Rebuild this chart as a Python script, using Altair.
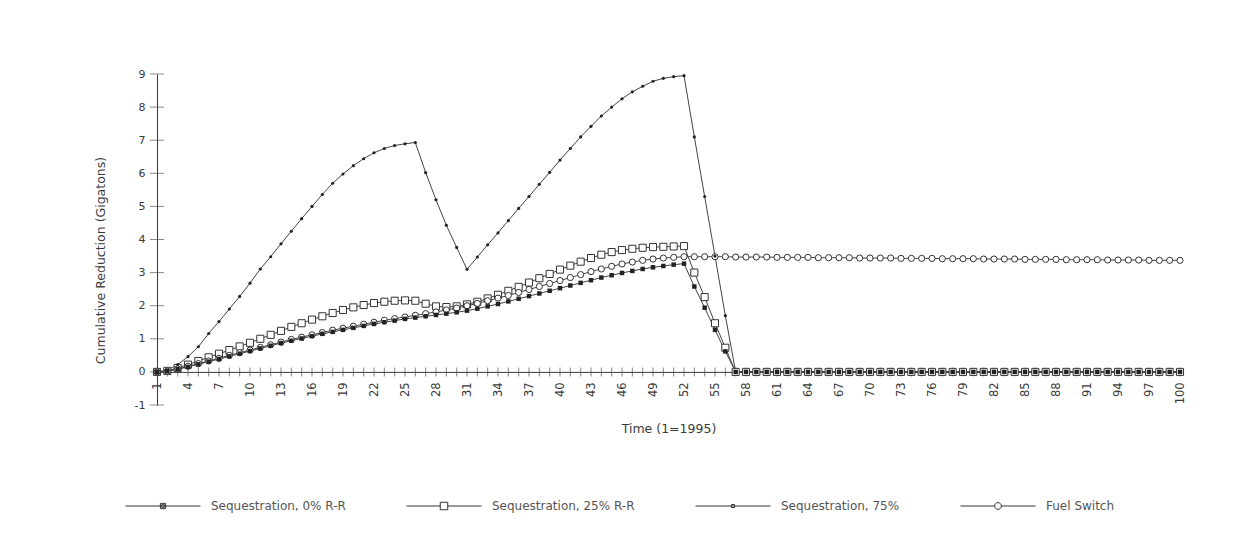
import altair as alt
import pandas as pd

years = list(range(1, 101))

seq0 = [0, 0.02, 0.08, 0.15, 0.23, 0.31, 0.39, 0.47, 0.55, 0.63, 0.71, 0.79, 0.87, 0.94, 1.01, 1.08,
        1.15, 1.21, 1.27, 1.33, 1.39, 1.45, 1.5, 1.55, 1.6, 1.64,
        1.68, 1.72, 1.76, 1.8, 1.85, 1.91, 1.98, 2.05, 2.13, 2.21, 2.29, 2.37, 2.45, 2.53, 2.61, 2.69,
        2.77, 2.85, 2.92, 2.99, 3.05, 3.11, 3.16, 3.2, 3.24, 3.27,
        2.58, 1.94, 1.27, 0.62, 0] + [0] * 43

seq25 = [0, 0.03, 0.12, 0.22, 0.33, 0.44, 0.55, 0.66, 0.77, 0.88, 1.0, 1.12, 1.24, 1.36, 1.47, 1.58,
         1.68, 1.78, 1.87, 1.95, 2.02, 2.08, 2.12, 2.15, 2.16, 2.15,
         2.06, 1.98, 1.96, 1.98, 2.04, 2.12, 2.22, 2.33, 2.45, 2.57, 2.7, 2.83, 2.96, 3.09, 3.21, 3.33,
         3.44, 3.54, 3.62, 3.68, 3.72, 3.75, 3.77, 3.78, 3.79, 3.8,
         3.0, 2.26, 1.47, 0.73, 0] + [0] * 43

seq75 = [0, 0.05, 0.22, 0.46, 0.76, 1.16, 1.52, 1.9, 2.28, 2.68, 3.11, 3.48, 3.87, 4.25, 4.63, 5.0,
         5.36, 5.7, 5.98, 6.23, 6.44, 6.62, 6.75, 6.84, 6.89, 6.93,
         6.02, 5.2, 4.43, 3.76, 3.1,
         3.47, 3.84, 4.2, 4.57, 4.94, 5.3, 5.67, 6.03, 6.4, 6.75, 7.1, 7.42, 7.73, 8.0, 8.25, 8.46,
         8.63, 8.78, 8.87, 8.92, 8.95,
         7.1, 5.3, 3.5, 1.7, 0] + [0] * 43

fuel = [0, 0.02, 0.09, 0.17, 0.25, 0.33, 0.41, 0.5, 0.58, 0.66, 0.74, 0.82, 0.9, 0.98, 1.05, 1.12,
        1.19, 1.26, 1.32, 1.38, 1.44, 1.5, 1.56, 1.61, 1.66, 1.71,
        1.76, 1.81, 1.87, 1.93, 2.0, 2.07, 2.15, 2.23, 2.31, 2.4, 2.49, 2.58, 2.67, 2.76, 2.85, 2.94,
        3.03, 3.11, 3.19, 3.26, 3.32, 3.37, 3.41, 3.44, 3.46, 3.48,
        3.48, 3.48, 3.48, 3.48, 3.47, 3.47, 3.47, 3.47, 3.46, 3.46, 3.46, 3.46, 3.45, 3.45, 3.45, 3.45,
        3.44, 3.44, 3.44, 3.44, 3.43, 3.43, 3.43, 3.43, 3.42, 3.42, 3.42, 3.42, 3.41, 3.41, 3.41, 3.41,
        3.4, 3.4, 3.4, 3.4, 3.39, 3.39, 3.39, 3.39, 3.38, 3.38, 3.38, 3.38, 3.37, 3.37, 3.37, 3.37]

x_label_values = list(range(1, 101, 3))
y_tick_values = list(range(-1, 10))

names = ["Sequestration, 0% R-R", "Sequestration, 25% R-R", "Sequestration, 75%", "Fuel Switch"]

rows = []
for name, vals in zip(names, [seq0, seq25, seq75, fuel]):
    for yr, v in zip(years, vals):
        rows.append({"year": yr, "value": v, "series": name})
df = pd.DataFrame(rows)

xticks_df = pd.DataFrame({"year": years, "value": [0] * len(years)})
yticks_df = pd.DataFrame({"year": [1] * len(y_tick_values), "value": y_tick_values})

W, H = 1023, 331
FONT = "DejaVu Sans"
INK = "#3a3a3a"

x_enc = alt.X(
    "year:Q",
    scale=alt.Scale(domain=[1, 100], nice=False, zero=False),
    axis=alt.Axis(
        values=x_label_values, labelAngle=270, ticks=False, grid=False,
        offset=-H / 10, labelPadding=10, labelFontSize=11.5, labelColor=INK,
        domainColor=INK, title="Time (1=1995)", titleFontSize=12.5,
        titleFontWeight="normal", titleColor=INK, titlePadding=19,
        labelFlush=False, labelOverlap=False,
    ),
)
y_enc = alt.Y(
    "value:Q",
    scale=alt.Scale(domain=[-1, 9], nice=False, zero=False),
    axis=alt.Axis(
        values=y_tick_values, ticks=False, grid=False,
        labelExpr="'' + datum.value",
        labelPadding=12, labelFontSize=11, labelColor=INK, domainColor=INK,
        title="Cumulative Reduction (Gigatons)", titleFontSize=12.5,
        titleFontWeight="normal", titleColor=INK, titlePadding=27, titleY=186,
    ),
)

base = alt.Chart(df)

lines = base.mark_line(strokeWidth=1, color="#444").encode(
    x=x_enc, y=y_enc, detail="series:N", order="year:Q"
)

sq25 = base.transform_filter(alt.datum.series == names[1]).mark_point(
    shape="square", size=50, filled=True, fill="white", stroke="#333", strokeWidth=1, opacity=1
).encode(x=x_enc, y=y_enc)

fs = base.transform_filter(alt.datum.series == names[3]).mark_point(
    shape="circle", size=38, filled=True, fill="white", stroke="#333", strokeWidth=1, opacity=1
).encode(x=x_enc, y=y_enc)

f0 = base.transform_filter(alt.datum.series == names[0]).mark_point(
    shape="square", size=20, filled=True, color="#222", opacity=1
).encode(x=x_enc, y=y_enc)

d75 = base.transform_filter(alt.datum.series == names[2]).mark_point(
    shape="circle", size=10, filled=True, color="#222", opacity=1
).encode(x=x_enc, y=y_enc)

xt = alt.Chart(xticks_df).mark_tick(orient="vertical", size=9, thickness=1, color="#555").encode(
    x=x_enc, y=y_enc
)
yt = alt.Chart(yticks_df).mark_tick(orient="horizontal", size=14, thickness=1, color="#555").encode(
    x=x_enc, y=y_enc
)

legend_paths = [
    "M-1,0H1M-0.07,-0.07H0.07V0.07H-0.07ZM-0.035,-0.035H0.035V0.035H-0.035Z",
    "M-1,0H-0.1M0.1,0H1M-0.1,-0.1H0.1V0.1H-0.1Z",
    "M-1,0H1M-0.04,-0.04H0.04V0.04H-0.04Z",
    "M-1,0H-0.09M0.09,0H1M0.09,0A0.09,0.09,0,1,1,-0.09,0A0.09,0.09,0,1,1,0.09,0Z",
]

legend_layer = base.transform_filter("false").mark_point(filled=False, opacity=1).encode(
    x=x_enc, y=y_enc,
    shape=alt.Shape(
        "series:N",
        scale=alt.Scale(domain=names, range=legend_paths),
        legend=alt.Legend(
            title=None, orient="none", legendX=-32, legendY=394, direction="horizontal",
            columns=4, symbolSize=5625, symbolStrokeWidth=1, symbolStrokeColor="#333",
            symbolFillColor="white", symbolOpacity=1, labelFont=FONT, labelFontSize=12,
            labelColor="#555", labelOffset=10, labelLimit=400, columnPadding=58,
        ),
    ),
)

chart = alt.layer(lines, xt, yt, sq25, fs, f0, d75, legend_layer).properties(
    width=W, height=H,
    padding={"left": 149, "top": 66, "right": 66, "bottom": 143},
    autosize=alt.AutoSizeParams(type="none"),
    background="white",
).configure_view(stroke=None).configure_axis(
    labelFont=FONT, titleFont=FONT
)

chart.save("out.html", embed_options={"renderer": "svg", "actions": False})
